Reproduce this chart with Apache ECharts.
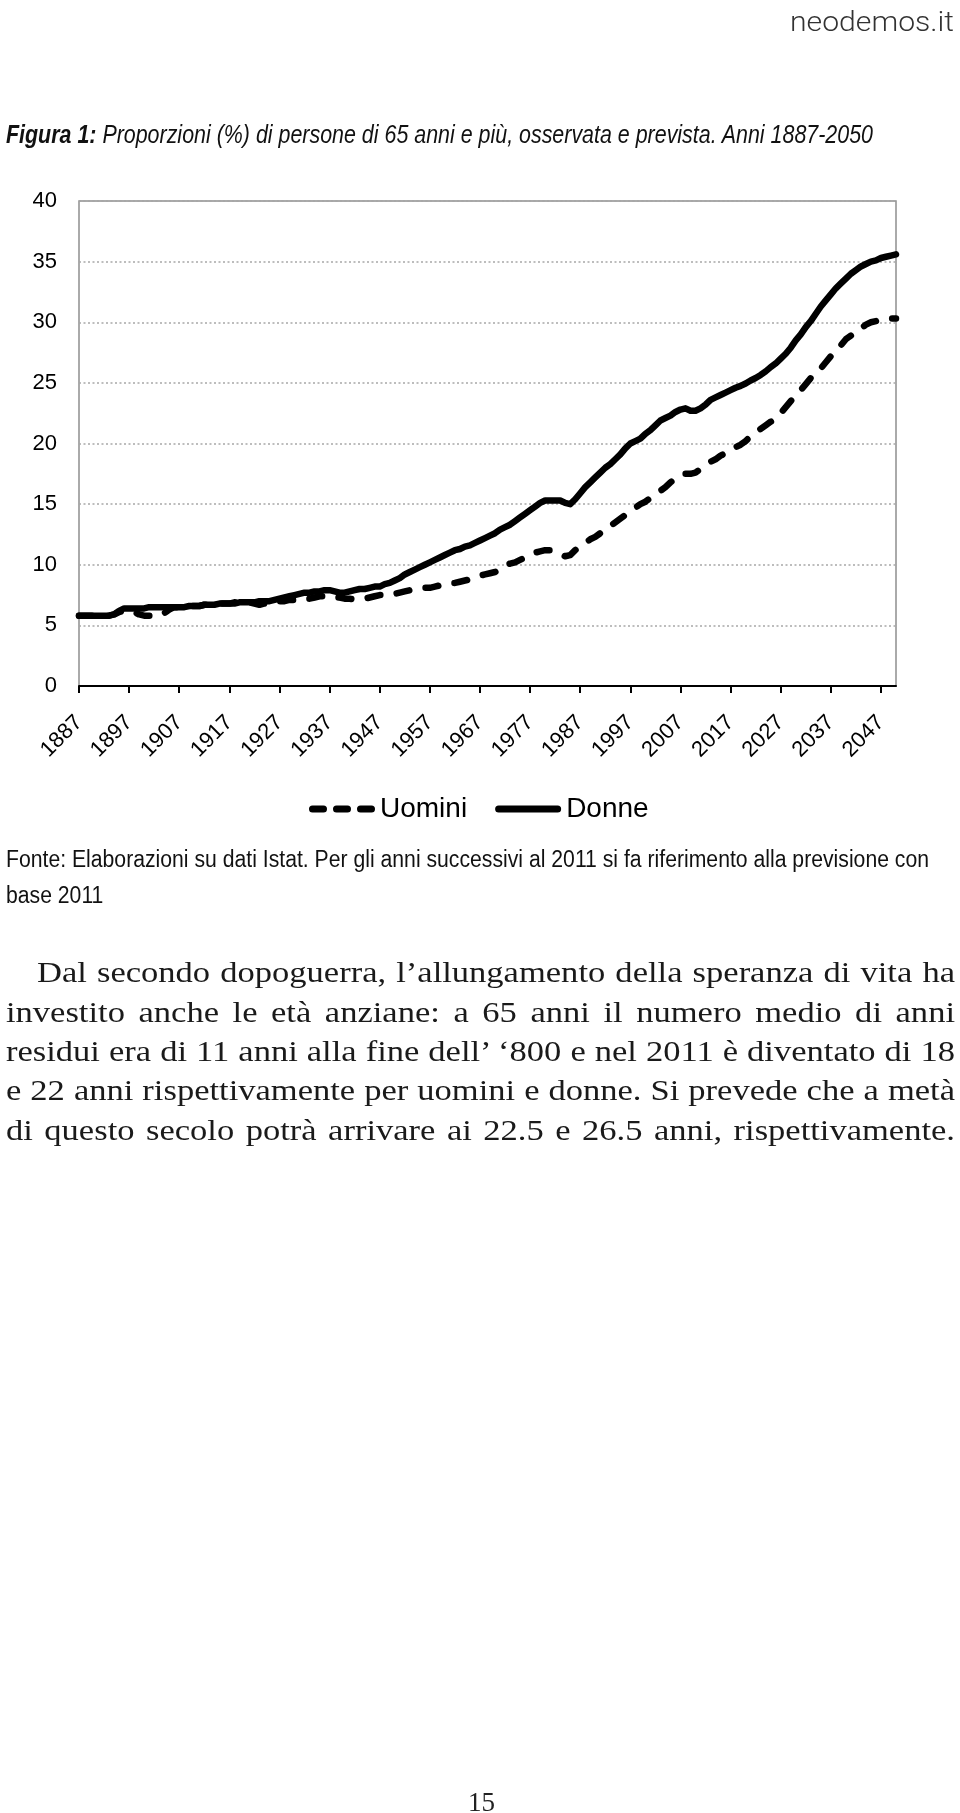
<!DOCTYPE html>
<html><head><meta charset="utf-8">
<script src="https://cdn.jsdelivr.net/npm/echarts@6/dist/echarts.min.js"></script>
<style>
html,body{margin:0;padding:0;background:#fff;}
#page{position:relative;width:960px;height:1813px;overflow:hidden;background:#fff;}
#chart{position:absolute;left:0;top:0;width:960px;height:1813px;}
.t{position:absolute;white-space:nowrap;transform-origin:0 0;color:#111;line-height:1;}
.cond{font-family:"Liberation Sans Narrow","Liberation Sans",Arial,sans-serif;}
.par{position:absolute;transform-origin:0 0;color:#1a1a1a;line-height:1;font-family:"Liberation Serif","DejaVu Serif",serif;font-size:29px;text-align:justify;text-align-last:justify;}
</style></head><body>
<div id="page">
<div id="chart"></div>
<div class="t" id="logo" style="top:9px;left:790px;font-family:Roboto,'Open Sans',sans-serif;font-weight:300;font-size:27px;color:#333;">neodemos.it</div>
<div class="t cond" id="cap" style="top:122px;left:6px;font-size:25px;font-style:italic;"><b>Figura 1:</b> Proporzioni (%) di persone di 65 anni e più, osservata e prevista. Anni 1887-2050</div>
<div class="t cond" id="fonte1" style="top:848px;left:6px;font-size:23px;">Fonte: Elaborazioni su dati Istat. Per gli anni successivi al 2011 si fa riferimento alla previsione con</div>
<div class="t cond" id="fonte2" style="top:884px;left:6px;font-size:23px;">base 2011</div>
<div class="par" id="p1" style="top:958px;left:37px;">Dal secondo dopoguerra, l’allungamento della speranza di vita ha</div>
<div class="par" id="p2" style="top:998px;left:6px;">investito anche le età anziane: a 65 anni il numero medio di anni</div>
<div class="par" id="p3" style="top:1037px;left:6px;">residui era di 11 anni alla fine dell’ ‘800 e nel 2011 è diventato di 18</div>
<div class="par" id="p4" style="top:1076px;left:6px;">e 22 anni rispettivamente per uomini e donne. Si prevede che a metà</div>
<div class="par" id="p5" style="top:1116px;left:6px;">di questo secolo potrà arrivare ai 22.5 e 26.5 anni, rispettivamente.</div>
<div class="t" id="pn" style="top:1789px;left:468px;font-family:'Liberation Serif',serif;font-size:27px;color:#222;">15</div>
</div>
<script>
// ---- data ----
const firstYear = 1887, lastYear = 2050;
const years = [];
for (let y = firstYear; y <= lastYear; y++) years.push(String(y));

const uomini = [
 5.8,5.8,5.8,5.8,5.8,5.8,5.8,5.9,6.1,6.2,
 6.2,6.1,5.9,5.8,5.8,5.8,5.8,6.0,6.3,6.5,
 6.5,6.5,6.6,6.6,6.6,6.7,6.7,6.7,6.8,6.8,
 6.8,6.9,6.9,6.9,6.9,6.8,6.7,6.8,6.9,6.9,
 7.0,7.0,7.1,7.1,7.1,7.2,7.2,7.3,7.4,7.4,
 7.3,7.3,7.3,7.2,7.2,7.15,7.15,7.2,7.3,7.4,
 7.5,7.5,7.6,7.6,7.7,7.8,7.9,8.0,8.05,8.1,
 8.1,8.2,8.3,8.4,8.5,8.5,8.6,8.7,8.8,9.0,
 9.1,9.2,9.3,9.4,9.6,9.9,10.1,10.2,10.4,10.6,
 10.8,11.0,11.1,11.2,11.2,11.1,10.9,10.7,10.8,11.2,
 11.5,11.8,12.1,12.3,12.6,12.9,13.2,13.5,13.8,14.1,
 14.4,14.7,15.0,15.2,15.5,15.8,16.1,16.4,16.8,17.1,
 17.4,17.5,17.5,17.6,17.9,18.2,18.5,18.7,19.0,19.2,
 19.4,19.7,19.9,20.2,20.6,20.9,21.2,21.5,21.8,22.0,
 22.5,23.0,23.5,23.9,24.4,24.9,25.4,25.8,26.2,26.7,
 27.2,27.7,28.1,28.6,28.9,29.3,29.5,29.8,30.0,30.1,
 30.2,30.3,30.3,30.3
];
const donne = [
 5.8,5.8,5.8,5.8,5.8,5.8,5.8,5.9,6.2,6.4,
 6.4,6.4,6.4,6.4,6.5,6.5,6.5,6.5,6.5,6.5,
 6.5,6.5,6.6,6.6,6.6,6.7,6.7,6.7,6.8,6.8,
 6.8,6.8,6.9,6.9,6.9,6.9,7.0,7.0,7.0,7.1,
 7.2,7.3,7.4,7.5,7.6,7.7,7.7,7.8,7.8,7.9,
 7.9,7.8,7.7,7.7,7.8,7.9,8.0,8.0,8.1,8.2,
 8.2,8.4,8.5,8.7,8.9,9.2,9.4,9.6,9.8,10.0,
 10.2,10.4,10.6,10.8,11.0,11.2,11.3,11.5,11.6,11.8,
 12.0,12.2,12.4,12.6,12.9,13.1,13.3,13.6,13.9,14.2,
 14.5,14.8,15.1,15.3,15.3,15.3,15.3,15.1,15.0,15.4,
 15.9,16.4,16.8,17.2,17.6,18.0,18.3,18.7,19.1,19.6,
 20.0,20.2,20.4,20.8,21.1,21.5,21.9,22.1,22.3,22.6,
 22.8,22.9,22.7,22.7,22.9,23.2,23.6,23.8,24.0,24.2,
 24.4,24.6,24.75,24.95,25.2,25.4,25.65,25.95,26.3,26.6,
 27.0,27.4,27.9,28.5,29.0,29.6,30.1,30.7,31.3,31.8,
 32.3,32.8,33.2,33.6,34.0,34.3,34.6,34.8,35.0,35.1,
 35.3,35.4,35.5,35.6
];
const seriesNames = ['Uomini', 'Donne'];
const yMin = 0, yMax = 40, yStep = 5;

// ---- text fitting ----
function fit(id, x0, x1) {
  const el = document.getElementById(id);
  const w = el.getBoundingClientRect().width;
  const s = (x1 - x0) / w;
  el.style.left = x0 + 'px';
  el.style.transform = 'scaleX(' + s + ')';
  return s;
}
fit('logo', 790, 954);
fit('cap', 6, 873);
const sF = fit('fonte1', 6, 929);
document.getElementById('fonte2').style.transform = 'scaleX(' + sF + ')';

const lines = [['p1', 37, 955], ['p2', 6, 955], ['p3', 6, 955], ['p4', 6, 955], ['p5', 6, 955]];
let sMin = 10;
lines.forEach(([id, a, b]) => {
  const el = document.getElementById(id);
  el.style.whiteSpace = 'nowrap';
  el.style.display = 'inline-block';
  const w = el.getBoundingClientRect().width;
  sMin = Math.min(sMin, (b - a) / w);
});
sMin *= 0.995;
lines.forEach(([id, a, b]) => {
  const el = document.getElementById(id);
  el.style.whiteSpace = 'normal';
  el.style.display = 'block';
  el.style.width = ((b - a) / sMin) + 'px';
  el.style.transform = 'scaleX(' + sMin + ')';
});

// ---- chart ----
const chart = echarts.init(document.getElementById('chart'), null, {renderer: 'canvas'});
const FONT = '"Liberation Sans", Arial, sans-serif';
const dashIcon = 'path://M3.5,0h11a3.5,3.5 0 0 1 0,7h-11a3.5,3.5 0 0 1 0,-7z' +
                 'M27.5,0h11a3.5,3.5 0 0 1 0,7h-11a3.5,3.5 0 0 1 0,-7z' +
                 'M51.5,0h11a3.5,3.5 0 0 1 0,7h-11a3.5,3.5 0 0 1 0,-7z';
const solidIcon = 'path://M3.5,0h59a3.5,3.5 0 0 1 0,7h-59a3.5,3.5 0 0 1 0,-7z';
chart.setOption({
  animation: false,
  backgroundColor: 'transparent',
  textStyle: {fontFamily: FONT},
  grid: {left: 79, top: 201, width: 817, height: 485, show: true, borderColor: '#8f8f8f', borderWidth: 1.5, backgroundColor: 'transparent'},
  legend: {
    data: [{name: seriesNames[0], icon: dashIcon}, {name: seriesNames[1], icon: solidIcon}],
    left: 304, top: 790,
    itemWidth: 66, itemHeight: 7, itemGap: 28,
    itemStyle: {color: '#000', borderWidth: 0},
    lineStyle: {width: 0},
    textStyle: {fontSize: 28, color: '#000', fontFamily: FONT}
  },
  xAxis: {
    type: 'category',
    data: years,
    boundaryGap: false,
    axisLine: {lineStyle: {color: '#000', width: 2}},
    axisTick: {interval: 9, length: 7, lineStyle: {color: '#000', width: 2}},
    axisLabel: {interval: 9, rotate: 45, fontSize: 22, color: '#000', margin: 33, fontFamily: FONT},
    splitLine: {show: false}
  },
  yAxis: {
    type: 'value', min: yMin, max: yMax, interval: yStep,
    axisLine: {show: false}, axisTick: {show: false},
    axisLabel: {fontSize: 22, color: '#000', margin: 22, fontFamily: FONT},
    splitLine: {lineStyle: {color: '#a8a8a8', width: 1.5, type: [2, 2.5]}}
  },
  series: [
    {name: 'Donne', type: 'line', data: donne, symbol: 'none', z: 3,
     lineStyle: {color: '#000', width: 6.5, cap: 'round', join: 'round'}, itemStyle: {color: '#000'}},
    {name: 'Uomini', type: 'line', data: uomini, symbol: 'none', z: 4,
     lineStyle: {color: '#000', width: 6.5, type: [13, 16.5], cap: 'round', join: 'round'}, itemStyle: {color: '#000'}}
  ]
});
</script>
</body></html>
